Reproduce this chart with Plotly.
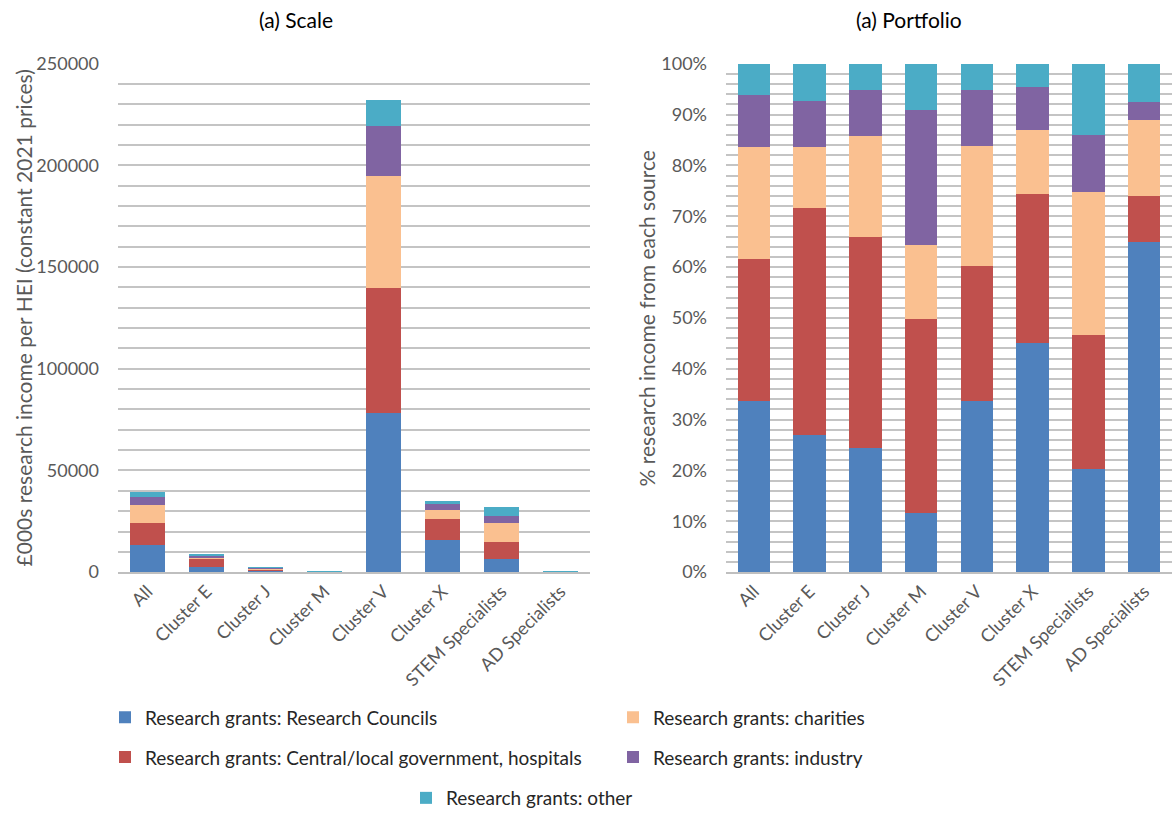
import plotly.graph_objects as go

categories = ["All", "Cluster E", "Cluster J", "Cluster M", "Cluster V",
              "Cluster X", "STEM Specialists", "AD Specialists"]

series_names = [
    "Research grants: Research Councils",
    "Research grants: Central/local government, hospitals",
    "Research grants: charities",
    "Research grants: industry",
    "Research grants: other",
]
series_colors = ["#4F81BD", "#C0504D", "#FAC090", "#8064A2", "#4BACC6"]

# (a) Scale: £000s research income per HEI
scale_councils = [13300, 2380, 600, 80, 78300, 15800, 6520, 390]
scale_govt     = [10900, 3930, 1015, 270, 61500, 10300, 8530, 54]
scale_charity  = [8700, 1060, 490, 100, 55000, 4400, 9070, 90]
scale_industry = [4100, 790, 220, 185, 24800, 3000, 3650, 20]
scale_other    = [2300, 640, 125, 65, 12400, 1570, 4520, 46]

# (a) Portfolio: % research income from each source
pct_councils = [33.7, 27.0, 24.5, 11.6, 33.7, 45.1, 20.2, 65.0]
pct_govt     = [27.9, 44.7, 41.4, 38.2, 26.5, 29.3, 26.4, 9.0]
pct_charity  = [22.0, 12.0, 19.9, 14.5, 23.6, 12.5, 28.1, 15.0]
pct_industry = [10.3, 9.0, 9.0, 26.5, 11.0, 8.5, 11.3, 3.4]
pct_other    = [6.1, 7.3, 5.2, 9.2, 5.2, 4.6, 14.0, 7.6]

scale_series = [scale_councils, scale_govt, scale_charity, scale_industry, scale_other]
pct_series = [pct_councils, pct_govt, pct_charity, pct_industry, pct_other]

W, H = 1175, 817
FONT = "Lato"
TICK_COLOR = "#595959"
GRID = "#c4c4c4"

def px_x(v):
    return v / W

def px_y(v):
    return 1 - v / H

fig = go.Figure()

legend_ids = ["legend", "legend2", "legend3", "legend4", "legend5"]

for i, (name, col) in enumerate(zip(series_names, series_colors)):
    fig.add_trace(go.Bar(
        x=categories, y=scale_series[i], name=name,
        marker=dict(color=col, line=dict(width=0)),
        xaxis="x", yaxis="y", legend=legend_ids[i], showlegend=True,
    ))
for i, (name, col) in enumerate(zip(series_names, series_colors)):
    fig.add_trace(go.Bar(
        x=categories, y=pct_series[i], name=name,
        marker=dict(color=col, line=dict(width=0)),
        xaxis="x2", yaxis="y2", showlegend=False,
    ))

axis_common = dict(
    zeroline=False, automargin=False,
    tickfont=dict(family=FONT, size=18, color=TICK_COLOR),
)

legend_pos = [
    (105, 721), (105, 761), (613, 721), (613, 761), (406, 802)
]
legends = {}
for lid, (lx, ly) in zip(legend_ids, legend_pos):
    legends[lid] = dict(
        x=px_x(lx), y=px_y(ly), xanchor="left", yanchor="middle",
        orientation="v", bgcolor="rgba(0,0,0,0)",
        font=dict(family=FONT, size=19, color="#262626"),
        itemwidth=30,
    )

fig.update_layout(
    width=W, height=H,
    margin=dict(l=0, r=0, t=0, b=0),
    paper_bgcolor="white", plot_bgcolor="white",
    barmode="stack", bargap=0.42,
    font=dict(family=FONT, size=18, color=TICK_COLOR),
    xaxis=dict(domain=[px_x(118), px_x(590)], anchor="y",
               tickangle=-45, showgrid=False, ticks="",
               showline=True, linecolor="#bfbfbf", linewidth=1.5,
               **axis_common),
    yaxis=dict(domain=[px_y(575), px_y(64)], anchor="x",
               range=[0, 250000], dtick=50000, tickformat="d",
               showline=False,
               showgrid=True, gridcolor=GRID, gridwidth=1.5,
               minor=dict(dtick=10000, showgrid=True, gridcolor=GRID, gridwidth=1.5),
               ticks="", ticklabelstandoff=18,
               **axis_common),
    xaxis2=dict(domain=[px_x(726), px_x(1172)], anchor="y2",
                tickangle=-45, showgrid=False, ticks="",
                showline=True, linecolor="#bfbfbf", linewidth=1.5,
                **axis_common),
    yaxis2=dict(domain=[px_y(575), px_y(64)], anchor="x2",
                range=[0, 100], dtick=10, ticksuffix="%",
                showline=False,
                showgrid=True, gridcolor=GRID, gridwidth=1.5,
                minor=dict(dtick=2, showgrid=True, gridcolor=GRID, gridwidth=1.5),
                ticks="", ticklabelstandoff=18,
                **axis_common),
    annotations=[
        dict(text="(a) Scale", x=px_x(296), y=px_y(20), xref="paper", yref="paper",
             showarrow=False, xanchor="center", yanchor="middle",
             font=dict(family=FONT, size=21, color="#000000")),
        dict(text="(a) Portfolio", x=px_x(909), y=px_y(20), xref="paper", yref="paper",
             showarrow=False, xanchor="center", yanchor="middle",
             font=dict(family=FONT, size=21, color="#000000")),
        dict(text="£000s research income per HEI (constant 2021 prices)",
             x=px_x(23), y=px_y(320), xref="paper", yref="paper",
             showarrow=False, xanchor="center", yanchor="middle", textangle=-90,
             font=dict(family=FONT, size=21, color=TICK_COLOR)),
        dict(text="% research income from each source",
             x=px_x(646), y=px_y(320), xref="paper", yref="paper",
             showarrow=False, xanchor="center", yanchor="middle", textangle=-90,
             font=dict(family=FONT, size=21, color=TICK_COLOR)),
    ],
    **legends,
)

fig.write_html("out.html")
